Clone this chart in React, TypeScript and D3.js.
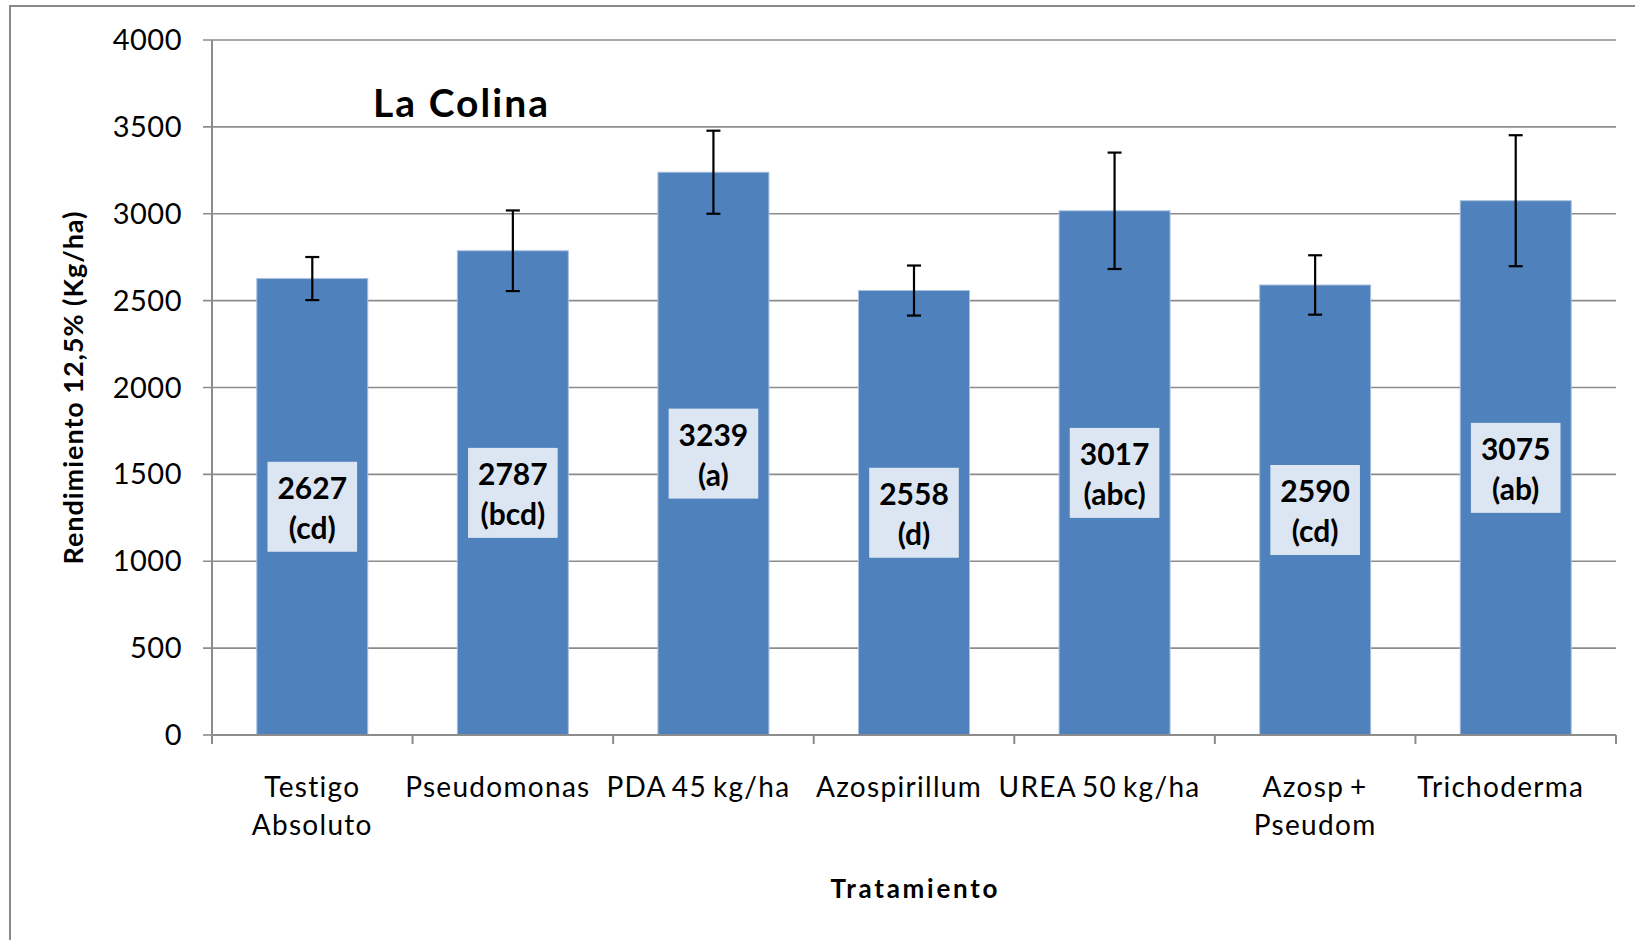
import React from "react";
import * as d3 from "d3";

const categories = ["Testigo\nAbsoluto", "Pseudomonas", "PDA 45 kg/ha", "Azospirillum", "UREA 50 kg/ha", "Azosp +\nPseudom", "Trichoderma"];
const values = [2627, 2787, 3239, 2558, 3017, 2590, 3075];
const errors = [124, 232, 239, 144, 335, 171, 377];
const letters = ["cd", "bcd", "a", "d", "abc", "cd", "ab"];
const yTicks = [0, 500, 1000, 1500, 2000, 2500, 3000, 3500, 4000];

const W = 1635;
const H = 940;
const FONT = "Lato, 'Open Sans', sans-serif";

function measure(text: string, font: string): number {
  const c = document.createElement("canvas");
  const ctx = c.getContext("2d");
  if (!ctx) return text.length * 16;
  ctx.font = font;
  return ctx.measureText(text).width;
}

export default function App() {
  const left = 212, right = 1616, top = 40, bottom = 735;
  const y = d3.scaleLinear().domain([0, 4000]).range([bottom, top]);
  const xb = d3.scaleBand<string>().domain(categories).range([left, right]).paddingInner(0.4466).paddingOuter(0.2233);
  const xs = d3.scaleBand<string>().domain(categories).range([left, right]).padding(0);
  const step = xs.step();
  const gridColor = "#8c8c8c";
  const labelFont = `bold 30px Lato`;

  return (
    <div style={{ position: "fixed", left: 0, top: 0, width: W, height: H, background: "#fff" }}>
      <svg width={W} height={H} style={{ display: "block", fontFamily: FONT }}>
        <rect x={0} y={0} width={W} height={H} fill="#fff" />
        <rect x={10} y={6} width={W + 100} height={H + 100} fill="none" stroke="#8a8a8a" strokeWidth={2} />

        {/* gridlines + y ticks */}
        {yTicks.map((t) => (
          <g key={t}>
            <line x1={203} x2={t === 0 ? left : right} y1={y(t)} y2={y(t)} stroke={gridColor} strokeWidth={1.6} />
            <text x={182} y={y(t) + 10} textAnchor="end" fontSize={29} letterSpacing={0.5} fill="#000">{t}</text>
          </g>
        ))}

        {/* bars */}
        {categories.map((c, i) => (
          <rect key={c} x={xb(c)} y={y(values[i])} width={xb.bandwidth()} height={y(0) - y(values[i])}
            fill="#4f81bd" stroke="#a9c1e0" strokeWidth={1} />
        ))}

        {/* axes */}
        <line x1={left} x2={left} y1={top} y2={bottom + 9} stroke={gridColor} strokeWidth={2} />
        <line x1={left} x2={right} y1={bottom} y2={bottom} stroke={gridColor} strokeWidth={2} />
        {d3.range(categories.length + 1).map((i) => (
          <line key={i} x1={left + i * step} x2={left + i * step} y1={bottom} y2={bottom + 9} stroke={gridColor} strokeWidth={2} />
        ))}

        {/* error bars */}
        {categories.map((c, i) => {
          const cx = (xb(c) as number) + xb.bandwidth() / 2;
          const yt = y(values[i] + errors[i]);
          const yb = y(values[i] - errors[i]);
          return (
            <g key={c} stroke="#000" strokeWidth={2.2}>
              <line x1={cx} x2={cx} y1={yt} y2={yb} />
              <line x1={cx - 7} x2={cx + 7} y1={yt} y2={yt} />
              <line x1={cx - 7} x2={cx + 7} y1={yb} y2={yb} />
            </g>
          );
        })}

        {/* data labels */}
        {categories.map((c, i) => {
          const cx = (xb(c) as number) + xb.bandwidth() / 2;
          const cy = (y(values[i]) + y(0)) / 2;
          const l1 = String(values[i]);
          const l2 = `(${letters[i]})`;
          const w = Math.max(measure(l1, labelFont), measure(l2, labelFont)) + 20;
          return (
            <g key={c}>
              <rect x={cx - w / 2} y={cy - 45} width={w} height={90} fill="#dce6f2" />
              <text x={cx} y={cy - 8} textAnchor="middle" fontSize={30} fontWeight="bold" fill="#000">{l1}</text>
              <text x={cx} y={cy + 32} textAnchor="middle" fontSize={30} fontWeight="bold" fill="#000">{l2}</text>
            </g>
          );
        })}

        {/* category labels */}
        {categories.map((c) => {
          const cx = (xs(c) as number) + step / 2;
          const lines = c.split("\n");
          const shift = lines.length === 1 ? -15 : 0;
          return lines.map((line, j) => (
            <text key={c + j} x={cx + shift} y={797 + j * 38} textAnchor="middle" fontSize={28} letterSpacing={1.3} wordSpacing={-2.5} fill="#000">{line}</text>
          ));
        })}

        {/* title */}
        <text x={373} y={117} fontSize={39} fontWeight="bold" textLength={175} lengthAdjust="spacing" fill="#000">La Colina</text>

        {/* axis titles */}
        <text transform="translate(83,388) rotate(-90)" textAnchor="middle" fontSize={27} fontWeight="bold" textLength={353} lengthAdjust="spacing" fill="#000">Rendimiento 12,5% (Kg/ha)</text>
        <text x={(left + right) / 2} y={898} textAnchor="middle" fontSize={26} fontWeight="bold" textLength={167} lengthAdjust="spacing" fill="#000">Tratamiento</text>
      </svg>
    </div>
  );
}
